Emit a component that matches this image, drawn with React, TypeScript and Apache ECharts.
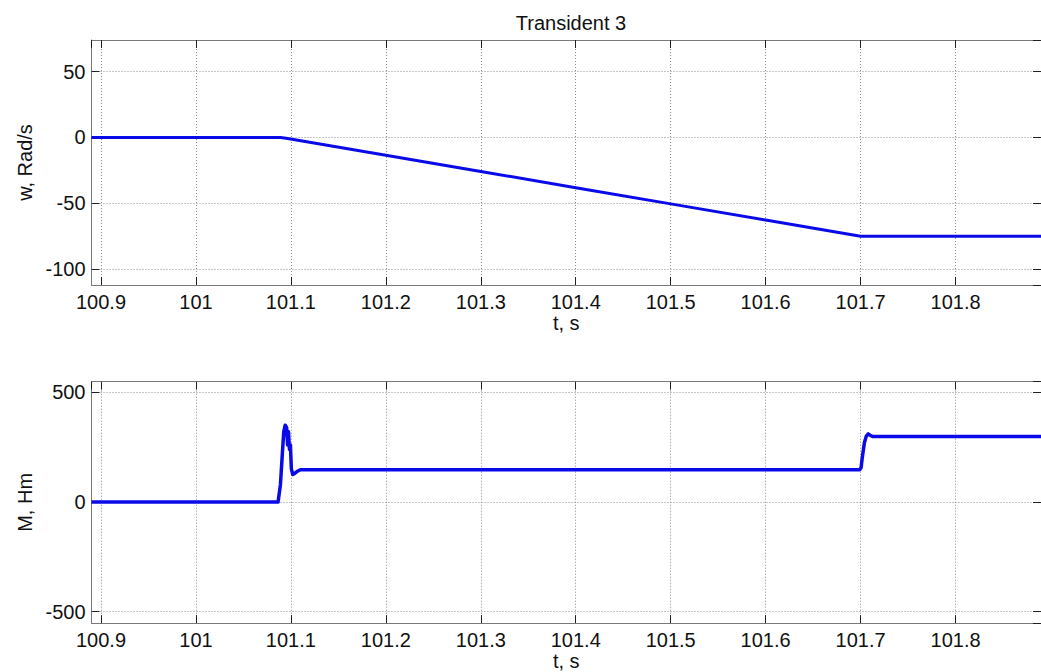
import React, { useEffect, useRef } from "react";
import * as echarts from "echarts";

// ---- data ----
const titleText = "Transident 3";
const xName = "t, s";
const yNameTop = "w, Rad/s";
const yNameBottom = "M, Hm";

const xRange = [100.89, 101.89];
const wRange = [-112, 74];
const mRange = [-552, 548];

// speed w (rad/s)
const tW = [100.89, 101.089, 101.095, 101.2, 101.3, 101.4, 101.5, 101.6, 101.7, 101.89];
const wVals = [0, 0, -0.6, -13.5, -25.8, -38.1, -50.4, -62.7, -75, -75];

// torque M (N·m)
const tM = [
  100.89, 101.0865, 101.089, 101.091, 101.0925, 101.094, 101.0955, 101.0965, 101.0975,
  101.0985, 101.0995, 101.1005, 101.102, 101.104, 101.107, 101.11, 101.699, 101.7005,
  101.702, 101.704, 101.706, 101.708, 101.71, 101.713, 101.89,
];
const mVals = [
  0, 0, 80, 220, 320, 350, 340, 260, 320,
  240, 260, 150, 125, 130, 140, 147, 147, 156,
  210, 270, 300, 310, 304, 298, 298,
];

const FONT = "Liberation Sans, Arial, sans-serif";
const LINE_COLOR = "#0a0ae8";
const AXIS_COLOR = "#7a7a7a";
const TEXT_COLOR = "#111";
const FS = 20;

function xAxisDef(gridIndex: number, position: "bottom" | "top", main: boolean) {
  return {
    type: "value",
    gridIndex,
    position,
    min: xRange[0],
    max: xRange[1],
    minInterval: 0.1,
    maxInterval: 0.1,
    name: main ? xName : "",
    nameLocation: "middle",
    nameGap: 25,
    nameTextStyle: { fontFamily: FONT, fontSize: FS, color: TEXT_COLOR },
    axisLine: { show: true, onZero: false, lineStyle: { color: AXIS_COLOR, width: 1 } },
    axisTick: { show: true, inside: true, length: 8, lineStyle: { color: "#222", width: 1 } },
    axisLabel: {
      show: main,
      showMinLabel: false,
      showMaxLabel: false,
      margin: 7,
      fontFamily: FONT,
      fontSize: FS,
      color: TEXT_COLOR,
      formatter: (v: number) => String(Math.round(v * 10) / 10),
    },
    splitLine: {
      show: main,
      lineStyle: { color: "#8c8c8c", width: 1, type: [1, 2] },
    },
  };
}

function yAxisDef(
  gridIndex: number,
  position: "left" | "right",
  main: boolean,
  range: number[],
  step: number,
  name: string
) {
  return {
    type: "value",
    gridIndex,
    position,
    min: range[0],
    max: range[1],
    minInterval: step,
    maxInterval: step,
    name: main ? name : "",
    nameLocation: "middle",
    nameGap: 57,
    nameTextStyle: { fontFamily: FONT, fontSize: FS, color: TEXT_COLOR },
    axisLine: { show: main, onZero: false, lineStyle: { color: AXIS_COLOR, width: 1 } },
    axisTick: { show: true, inside: true, length: 8, lineStyle: { color: "#222", width: 1 } },
    axisLabel: {
      show: main,
      showMinLabel: false,
      showMaxLabel: false,
      margin: 6,
      fontFamily: FONT,
      fontSize: FS,
      color: TEXT_COLOR,
    },
    splitLine: {
      show: main,
      lineStyle: { color: "#8c8c8c", width: 1, type: [1, 2] },
    },
  };
}

export default function App() {
  const ref = useRef<HTMLDivElement>(null);

  useEffect(() => {
    if (!ref.current) return;
    const chart = echarts.init(ref.current, undefined, { renderer: "svg" });
    const wData = tW.map((t, i) => [t, wVals[i]]);
    const mData = tM.map((t, i) => [t, mVals[i]]);

    chart.setOption({
      animation: false,
      backgroundColor: "#ffffff",
      title: {
        text: titleText,
        left: 566,
        top: 8,
        textAlign: "center",
        textStyle: { fontFamily: FONT, fontSize: FS, fontWeight: "normal", color: TEXT_COLOR },
      },
      grid: [
        { left: 91.5, top: 40, width: 951, height: 245 },
        { left: 91.5, top: 381.7, width: 951, height: 245.6 },
      ],
      xAxis: [
        xAxisDef(0, "bottom", true),
        xAxisDef(0, "top", false),
        xAxisDef(1, "bottom", true),
        xAxisDef(1, "top", false),
      ],
      yAxis: [
        yAxisDef(0, "left", true, wRange, 50, yNameTop),
        yAxisDef(0, "right", false, wRange, 50, yNameTop),
        yAxisDef(1, "left", true, mRange, 500, yNameBottom),
        yAxisDef(1, "right", false, mRange, 500, yNameBottom),
      ],
      series: [
        {
          type: "line",
          xAxisIndex: 0,
          yAxisIndex: 0,
          data: wData,
          showSymbol: false,
          lineStyle: { color: LINE_COLOR, width: 3 },
          itemStyle: { color: LINE_COLOR },
        },
        {
          type: "line",
          xAxisIndex: 2,
          yAxisIndex: 2,
          data: mData,
          showSymbol: false,
          lineStyle: { color: LINE_COLOR, width: 3.5, join: "round" },
          itemStyle: { color: LINE_COLOR },
        },
      ],
    });
    return () => chart.dispose();
  }, []);

  return (
    <div
      ref={ref}
      style={{ position: "fixed", left: 0, top: 0, width: 1041, height: 672, background: "#fff" }}
    />
  );
}
